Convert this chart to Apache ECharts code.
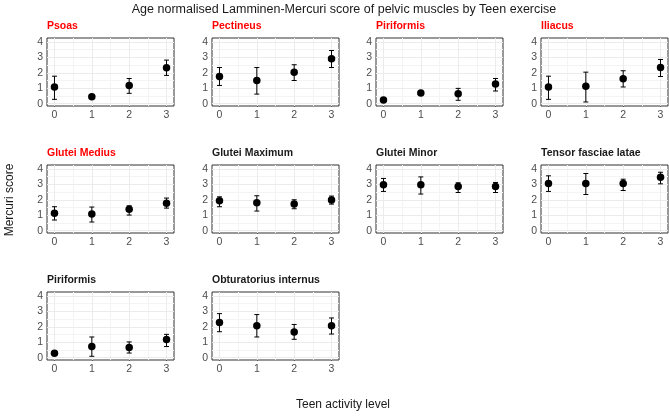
<!DOCTYPE html>
<html>
<head>
<meta charset="utf-8">
<title>Lamminen-Mercuri score by Teen exercise</title>
<script src="https://cdn.jsdelivr.net/npm/echarts@6/dist/echarts.min.js"></script>
<style>
  html, body { margin: 0; padding: 0; background: #fff; }
  #chart { width: 669px; height: 417px; }
</style>
</head>
<body>
<div id="chart"></div>
<script>
// data
const activityLevels = [0, 1, 2, 3];
const scoreTicks = [0, 1, 2, 3, 4];
const minorX = [0.5, 1.5, 2.5];
const minorY = [0.5, 1.5, 2.5, 3.5];

const muscles = ['Psoas', 'Pectineus', 'Piriformis', 'Iliacus',
  'Glutei Medius', 'Glutei Maximum', 'Glutei Minor', 'Tensor fasciae latae',
  'Piriformis', 'Obturatorius internus'];

const meanScore = [
  [1.08, 0.45, 1.18, 2.32],
  [1.76, 1.50, 2.04, 2.90],
  [0.24, 0.69, 0.65, 1.27],
  [1.08, 1.12, 1.61, 2.34],
  [1.12, 1.08, 1.38, 1.78],
  [1.94, 1.81, 1.72, 1.98],
  [2.97, 2.97, 2.86, 2.86],
  [3.05, 3.05, 3.05, 3.46],
  [0.28, 0.72, 0.66, 1.17],
  [2.28, 2.06, 1.66, 2.06]
];
const lowerScore = [
  [0.28, null, 0.67, 1.83],
  [1.18, 0.62, 1.50, 2.34],
  [null, null, 0.22, 0.82],
  [0.28, 0.11, 1.08, 1.76],
  [0.69, 0.56, 1.01, 1.46],
  [1.55, 1.27, 1.42, 1.72],
  [2.54, 2.37, 2.47, 2.47],
  [2.54, 2.34, 2.60, 3.03],
  [null, 0.09, 0.30, 0.72],
  [1.68, 1.34, 1.19, 1.53]
];
const upperScore = [
  [1.78, null, 1.63, 2.82],
  [2.34, 2.34, 2.52, 3.44],
  [null, null, 0.99, 1.63],
  [1.78, 2.04, 2.13, 2.86],
  [1.55, 1.53, 1.61, 2.11],
  [2.19, 2.26, 2.00, 2.24],
  [3.38, 3.48, 3.10, 3.12],
  [3.55, 3.70, 3.33, 3.78],
  [null, 1.34, 1.02, 1.51],
  [2.85, 2.79, 2.15, 2.57]
];

// layout
const font = '"Liberation Sans", Arial, sans-serif';
const colLeft = [47, 212, 376, 541];
const rowTop = [38, 165, 292];
const panelW = 127, panelH = 68;
const redPanels = 5;

const chart = echarts.init(document.getElementById('chart'));

let grids = [], xAxes = [], yAxes = [], series = [];
let titles = [{
  text: 'Age normalised Lamminen-Mercuri score of pelvic muscles by Teen exercise',
  left: 344, top: 3, textAlign: 'center', padding: 0,
  textStyle: { fontSize: 12.5, fontWeight: 'normal', color: '#1a1a1a', fontFamily: font }
}];

function gridLines(xs, ys, color) {
  return {
    z: 1, silent: true, symbol: 'none', label: { show: false },
    lineStyle: { color: color, width: 1, type: 'solid' },
    emphasis: { disabled: true },
    data: xs.map(v => ({ xAxis: v })).concat(ys.map(v => ({ yAxis: v })))
  };
}

muscles.forEach((name, i) => {
  const col = i % 4, row = Math.floor(i / 4);
  grids.push({
    left: colLeft[col], top: rowTop[row], width: panelW, height: panelH,
    show: true, borderColor: '#333', borderWidth: 1, backgroundColor: '#fff', z: 0
  });
  titles.push({
    text: name, left: colLeft[col], top: rowTop[row] - 17, padding: 0,
    textStyle: {
      fontSize: 10.5, fontWeight: 'bold', fontFamily: font,
      color: i < redPanels ? '#ff0000' : '#1a1a1a'
    }
  });
  xAxes.push({
    type: 'value', gridIndex: i, min: -0.2, max: 3.2,
    axisLine: { show: false },
    axisTick: { show: true, length: 3, customValues: activityLevels, lineStyle: { color: '#333' } },
    axisLabel: { customValues: activityLevels, color: '#4d4d4d', fontSize: 10.5, margin: 4, fontFamily: font },
    splitLine: { show: false }
  });
  yAxes.push({
    type: 'value', gridIndex: i, min: -0.15, max: 4.25,
    axisLine: { show: false },
    axisTick: { show: true, length: 3, customValues: scoreTicks, lineStyle: { color: '#333' } },
    axisLabel: { customValues: scoreTicks, color: '#4d4d4d', fontSize: 10.5, margin: 4, fontFamily: font },
    splitLine: { show: false }
  });

  // grid lines: minor at half steps, major at the ticks
  series.push({
    type: 'line', xAxisIndex: i, yAxisIndex: i, data: [], silent: true,
    markLine: gridLines(minorX, minorY, '#f4f4f4')
  });
  series.push({
    type: 'line', xAxisIndex: i, yAxisIndex: i, data: [], silent: true,
    markLine: gridLines(activityLevels, scoreTicks, '#ebebeb')
  });

  let bars = [];
  activityLevels.forEach((lvl, k) => {
    if (lowerScore[i][k] != null) bars.push([lvl, lowerScore[i][k], upperScore[i][k]]);
  });
  series.push({
    type: 'custom', xAxisIndex: i, yAxisIndex: i, z: 3, silent: true,
    encode: { x: 0, y: [1, 2] },
    data: bars,
    renderItem(params, api) {
      const lo = api.coord([api.value(0), api.value(1)]);
      const hi = api.coord([api.value(0), api.value(2)]);
      const cap = 2.5;
      const st = { stroke: '#000', lineWidth: 1 };
      return {
        type: 'group',
        children: [
          { type: 'line', shape: { x1: lo[0], y1: lo[1], x2: hi[0], y2: hi[1] }, style: st },
          { type: 'line', shape: { x1: lo[0] - cap, y1: lo[1], x2: lo[0] + cap, y2: lo[1] }, style: st },
          { type: 'line', shape: { x1: hi[0] - cap, y1: hi[1], x2: hi[0] + cap, y2: hi[1] }, style: st }
        ]
      };
    }
  });

  series.push({
    type: 'scatter', xAxisIndex: i, yAxisIndex: i, z: 4, silent: true,
    symbolSize: 7.5, itemStyle: { color: '#000', opacity: 1 },
    data: activityLevels.map((lvl, k) => [lvl, meanScore[i][k]])
  });
});

chart.setOption({
  animation: false,
  title: titles,
  grid: grids,
  xAxis: xAxes,
  yAxis: yAxes,
  series: series,
  graphic: [
    {
      type: 'text', x: 343, y: 405,
      style: { text: 'Teen activity level', align: 'center', verticalAlign: 'middle',
        fontSize: 12, fontFamily: font, fill: '#1a1a1a' }
    },
    {
      type: 'text', x: 10, y: 200, rotation: Math.PI / 2,
      style: { text: 'Mercuri score', align: 'center', verticalAlign: 'middle',
        fontSize: 12, fontFamily: font, fill: '#1a1a1a' }
    }
  ]
});
</script>
</body>
</html>
